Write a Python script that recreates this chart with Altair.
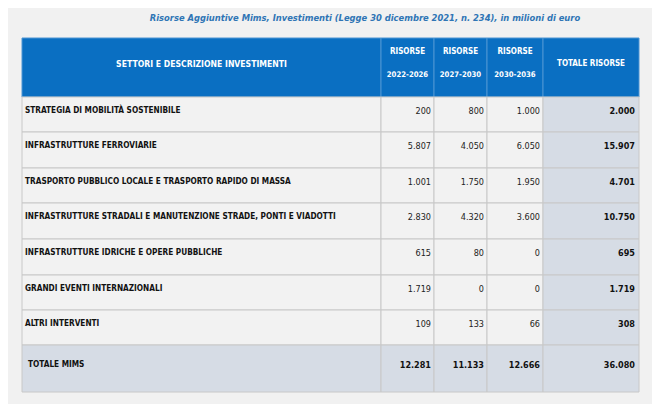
import altair as alt
import pandas as pd

# ---------------- data ----------------
title_text = "Risorse Aggiuntive Mims, Investimenti (Legge 30 dicembre 2021, n. 234), in milioni di euro"
header_first = "SETTORI E DESCRIZIONE INVESTIMENTI"
header_top = ["RISORSE", "RISORSE", "RISORSE"]
header_years = ["2022-2026", "2027-2030", "2030-2036"]
header_total = "TOTALE RISORSE"

settori = [
    "STRATEGIA DI MOBILITÀ SOSTENIBILE",
    "INFRASTRUTTURE FERROVIARIE",
    "TRASPORTO PUBBLICO LOCALE E TRASPORTO RAPIDO DI MASSA",
    "INFRASTRUTTURE STRADALI E MANUTENZIONE STRADE, PONTI E VIADOTTI",
    "INFRASTRUTTURE IDRICHE E OPERE PUBBLICHE",
    "GRANDI EVENTI INTERNAZIONALI",
    "ALTRI INTERVENTI",
]
ris_2022_2026 = [200, 5807, 1001, 2830, 615, 1719, 109]
ris_2027_2030 = [800, 4050, 1750, 4320, 80, 0, 133]
ris_2030_2036 = [1000, 6050, 1950, 3600, 0, 0, 66]
totale_risorse = [2000, 15907, 4701, 10750, 695, 1719, 308]
totale_label = "TOTALE MIMS"
totale_mims = [12281, 11133, 12666, 36080]

# ---------------- layout ----------------
col_edges = [22, 381, 434, 487, 543, 639]
row_edges = [38, 97, 132, 168, 203, 239, 275, 310, 345, 392]
BLUE = "#0a6fc2"
CELL = "#f2f2f2"
SHADE = "#d6dce5"
GRID = "#c8c8c8"
FONT = "DejaVu Sans Condensed, Liberation Sans Narrow, Roboto Condensed, Open Sans, sans-serif"


def fmt(v):
    return f"{v:,}".replace(",", ".")


cells = []
nrows = len(row_edges) - 1
ncols = len(col_edges) - 1
for i in range(nrows):
    for j in range(ncols):
        if i == 0:
            fill, stroke = BLUE, "#4d95d3"
        elif i == nrows - 1 or j == ncols - 1:
            fill, stroke = SHADE, GRID
        else:
            fill, stroke = CELL, GRID
        cells.append(dict(x=col_edges[j], x2=col_edges[j + 1], y=row_edges[i],
                          y2=row_edges[i + 1], fill=fill, stroke=stroke))
cells_df = pd.DataFrame(cells)

xs = alt.Scale(domain=[8, 652], nice=False, zero=False)
ys = alt.Scale(domain=[8, 404], nice=False, zero=False, reverse=True)
X = lambda f: alt.X(f, type="quantitative", scale=xs, axis=None)
Y = lambda f: alt.Y(f, type="quantitative", scale=ys, axis=None)

rects = alt.Chart(cells_df).mark_rect(strokeWidth=1).encode(
    x=X("x"), x2="x2", y=Y("y"), y2="y2",
    fill=alt.Fill("fill:N", scale=None),
    stroke=alt.Stroke("stroke:N", scale=None),
)

# header texts
hdr = [dict(x=(col_edges[0] + col_edges[1]) / 2, y=row_edges[0] + 26, t=header_first, s=8.6)]
for j in range(3):
    cx = (col_edges[j + 1] + col_edges[j + 2]) / 2
    hdr.append(dict(x=cx, y=row_edges[0] + 14, t=header_top[j], s=8.0))
    hdr.append(dict(x=cx, y=row_edges[0] + 37, t=header_years[j], s=7.7))
hdr.append(dict(x=(col_edges[4] + col_edges[5]) / 2, y=row_edges[0] + 26, t=header_total, s=8.0))
hdr_df = pd.DataFrame(hdr)
hdr_text = alt.Chart(hdr_df).mark_text(
    font=FONT, fontWeight="bold", color="white", align="center", baseline="middle"
).encode(x=X("x"), y=Y("y"), text="t:N", size=alt.Size("s:Q", scale=None, legend=None))

# body labels
lab = []
for i, s in enumerate(settori):
    lab.append(dict(x=col_edges[0] + 3, y=row_edges[i + 1] + 14, t=s))
lab.append(dict(x=col_edges[0] + 6, y=row_edges[-2] + 20, t=totale_label))
lab_df = pd.DataFrame(lab)
lab_text = alt.Chart(lab_df).mark_text(
    font=FONT, fontSize=8.2, fontWeight="bold", color="#111111", align="left", baseline="middle"
).encode(x=X("x"), y=Y("y"), text="t:N")

# numbers
num = []
series = [ris_2022_2026, ris_2027_2030, ris_2030_2036]
for i in range(len(settori)):
    for j, ser in enumerate(series):
        num.append(dict(x=col_edges[j + 2] - 3, y=row_edges[i + 1] + 14, t=fmt(ser[i]), w="normal"))
    num.append(dict(x=col_edges[5] - 4, y=row_edges[i + 1] + 14, t=fmt(totale_risorse[i]), w="bold"))
for j, v in enumerate(totale_mims):
    num.append(dict(x=col_edges[j + 2] - (4 if j == 3 else 3), y=row_edges[-2] + 20, t=fmt(v), w="bold"))
num_df = pd.DataFrame(num)
num_norm = alt.Chart(num_df[num_df.w == "normal"]).mark_text(
    font=FONT, fontSize=9, color="#222222", align="right", baseline="middle"
).encode(x=X("x"), y=Y("y"), text="t:N")
num_bold = alt.Chart(num_df[num_df.w == "bold"]).mark_text(
    font=FONT, fontSize=9, fontWeight="bold", color="#111111", align="right", baseline="middle"
).encode(x=X("x"), y=Y("y"), text="t:N")

title_df = pd.DataFrame([dict(x=365, y=18, t=title_text)])
title = alt.Chart(title_df).mark_text(
    font=FONT, fontSize=9.3, fontStyle="italic", fontWeight="bold", color="#2f75b5",
    align="center", baseline="middle"
).encode(x=X("x"), y=Y("y"), text="t:N")

chart = alt.layer(rects, hdr_text, lab_text, num_norm, num_bold, title).properties(
    width=644, height=396, padding=0, autosize=alt.AutoSizeParams(type="none"),
    background="#f1f1f1",
).configure_view(strokeWidth=0)

chart.save("out.html", embed_options={"renderer": "svg", "actions": False})
